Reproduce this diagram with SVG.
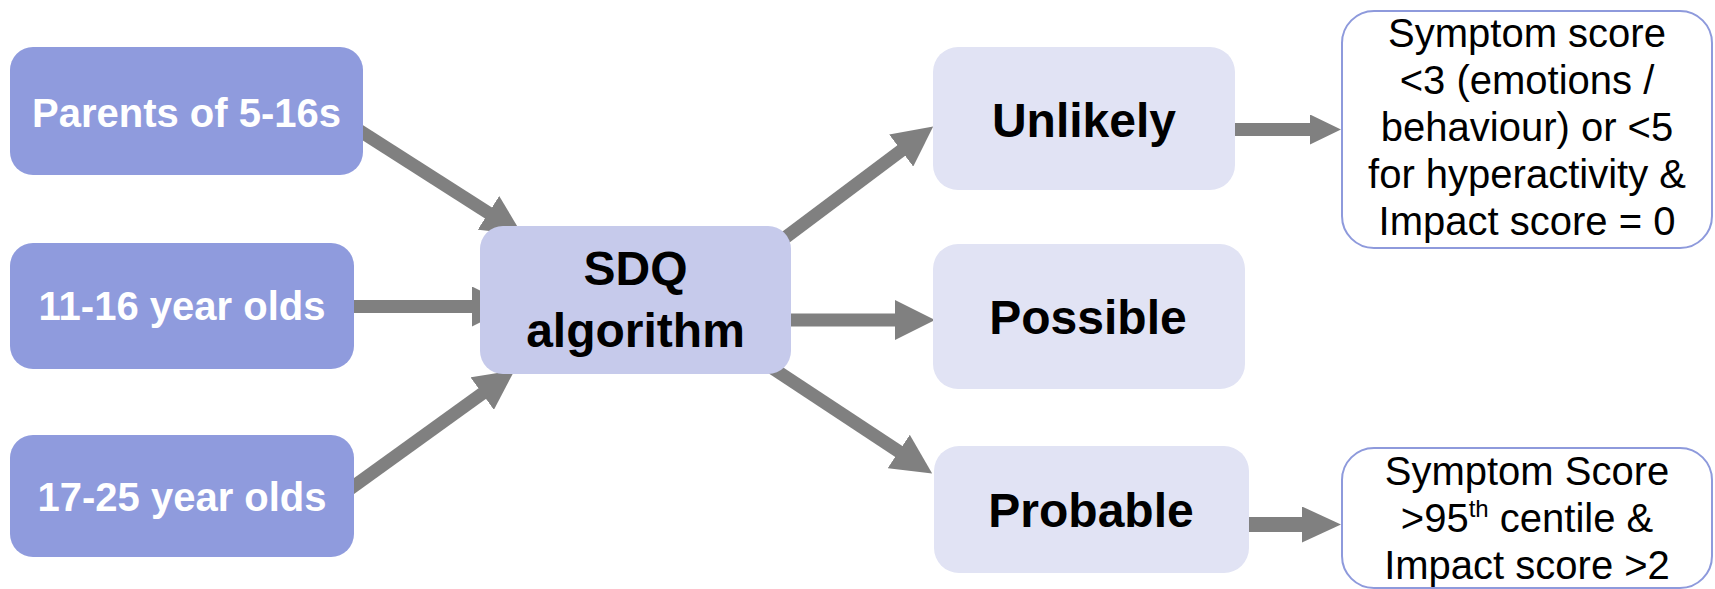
<svg xmlns="http://www.w3.org/2000/svg" width="1715" height="589" viewBox="0 0 1715 589">
<style>
.in{fill:#8f9bdd}
.alg{fill:#c6caeb}
.res{fill:#e1e3f4}
.out{fill:#ffffff;stroke:#8e9adc;stroke-width:2}
.tw{font-family:"Liberation Sans",Arial,sans-serif;font-weight:bold;font-size:40px;fill:#ffffff;text-anchor:middle}
.tb{font-family:"Liberation Sans",Arial,sans-serif;font-weight:bold;font-size:48px;fill:#000000;text-anchor:middle}
.tr{font-family:"Liberation Sans",Arial,sans-serif;font-size:40px;fill:#000000;text-anchor:middle}
.c{stroke:#808080;stroke-width:13;fill:none}
</style>
<defs>
<marker id="ah" viewBox="0 0 40 40" markerWidth="40" markerHeight="40" refX="1" refY="20" markerUnits="userSpaceOnUse" orient="auto"><path d="M0,0 L40,20 L0,40 Z" fill="#808080"/></marker>
<marker id="ah2" viewBox="0 0 31 30" markerWidth="31" markerHeight="30" refX="1" refY="15" markerUnits="userSpaceOnUse" orient="auto"><path d="M0,0 L31,15 L0,30 Z" fill="#808080"/></marker>
<marker id="ah3" viewBox="0 0 39 36" markerWidth="39" markerHeight="36" refX="1" refY="18" markerUnits="userSpaceOnUse" orient="auto"><path d="M0,0 L39,18 L0,36 Z" fill="#808080"/></marker>
</defs>
<g id="connectors">
<line class="c" x1="353" y1="126.6" x2="489.3" y2="213.5" marker-end="url(#ah)"/>
<line class="c" x1="345" y1="306.5" x2="473" y2="306.5" marker-end="url(#ah)"/>
<line class="c" x1="344" y1="493.2" x2="483" y2="393" marker-end="url(#ah)"/>
<line class="c" x1="770" y1="249" x2="902" y2="150" marker-end="url(#ah)"/>
<line class="c" x1="784" y1="320" x2="896" y2="320" marker-end="url(#ah)"/>
<line class="c" x1="760" y1="360" x2="899.6" y2="452" marker-end="url(#ah)"/>
<line class="c" x1="1235" y1="129.5" x2="1311" y2="129.5" marker-end="url(#ah2)"/>
<line class="c" style="stroke-width:15" x1="1249" y1="524.5" x2="1303" y2="524.5" marker-end="url(#ah3)"/>
</g>
<g id="parents">
<rect class="in" x="10" y="47" width="353" height="128" rx="23"/>
<text class="tw" x="186.5" y="127">Parents of 5-16s</text>
</g>
<g id="age11-16">
<rect class="in" x="10" y="243" width="344" height="126" rx="23"/>
<text class="tw" x="182" y="320">11-16 year olds</text>
</g>
<g id="age17-25">
<rect class="in" x="10" y="435" width="344" height="122" rx="23"/>
<text class="tw" x="182" y="511">17-25 year olds</text>
</g>
<g id="sdq">
<rect class="alg" x="480" y="226" width="311" height="148" rx="23"/>
<text class="tb" x="635.5" y="285">SDQ</text>
<text class="tb" x="635.5" y="347">algorithm</text>
</g>
<g id="unlikely">
<rect class="res" x="933" y="47" width="302" height="143" rx="25"/>
<text class="tb" x="1084" y="137">Unlikely</text>
</g>
<g id="possible">
<rect class="res" x="933" y="244" width="312" height="145" rx="25"/>
<text class="tb" x="1088" y="334">Possible</text>
</g>
<g id="probable">
<rect class="res" x="934" y="446" width="315" height="127" rx="25"/>
<text class="tb" x="1091" y="527">Probable</text>
</g>
<g id="unlikely-criteria">
<rect class="out" x="1342" y="11" width="370" height="237" rx="32"/>
<text class="tr" x="1527" y="47">Symptom score</text>
<text class="tr" x="1527" y="94">&lt;3 (emotions /</text>
<text class="tr" x="1527" y="141">behaviour) or &lt;5</text>
<text class="tr" x="1527" y="188">for hyperactivity &amp;</text>
<text class="tr" x="1527" y="235">Impact score = 0</text>
</g>
<g id="probable-criteria">
<rect class="out" x="1342" y="448" width="370" height="140" rx="32"/>
<text class="tr" x="1527" y="485">Symptom Score</text>
<text class="tr" x="1527" y="532">&gt;95<tspan font-size="24" dy="-15">th</tspan><tspan dy="15"> centile &amp;</tspan></text>
<text class="tr" x="1527" y="579">Impact score &gt;2</text>
</g>
</svg>
